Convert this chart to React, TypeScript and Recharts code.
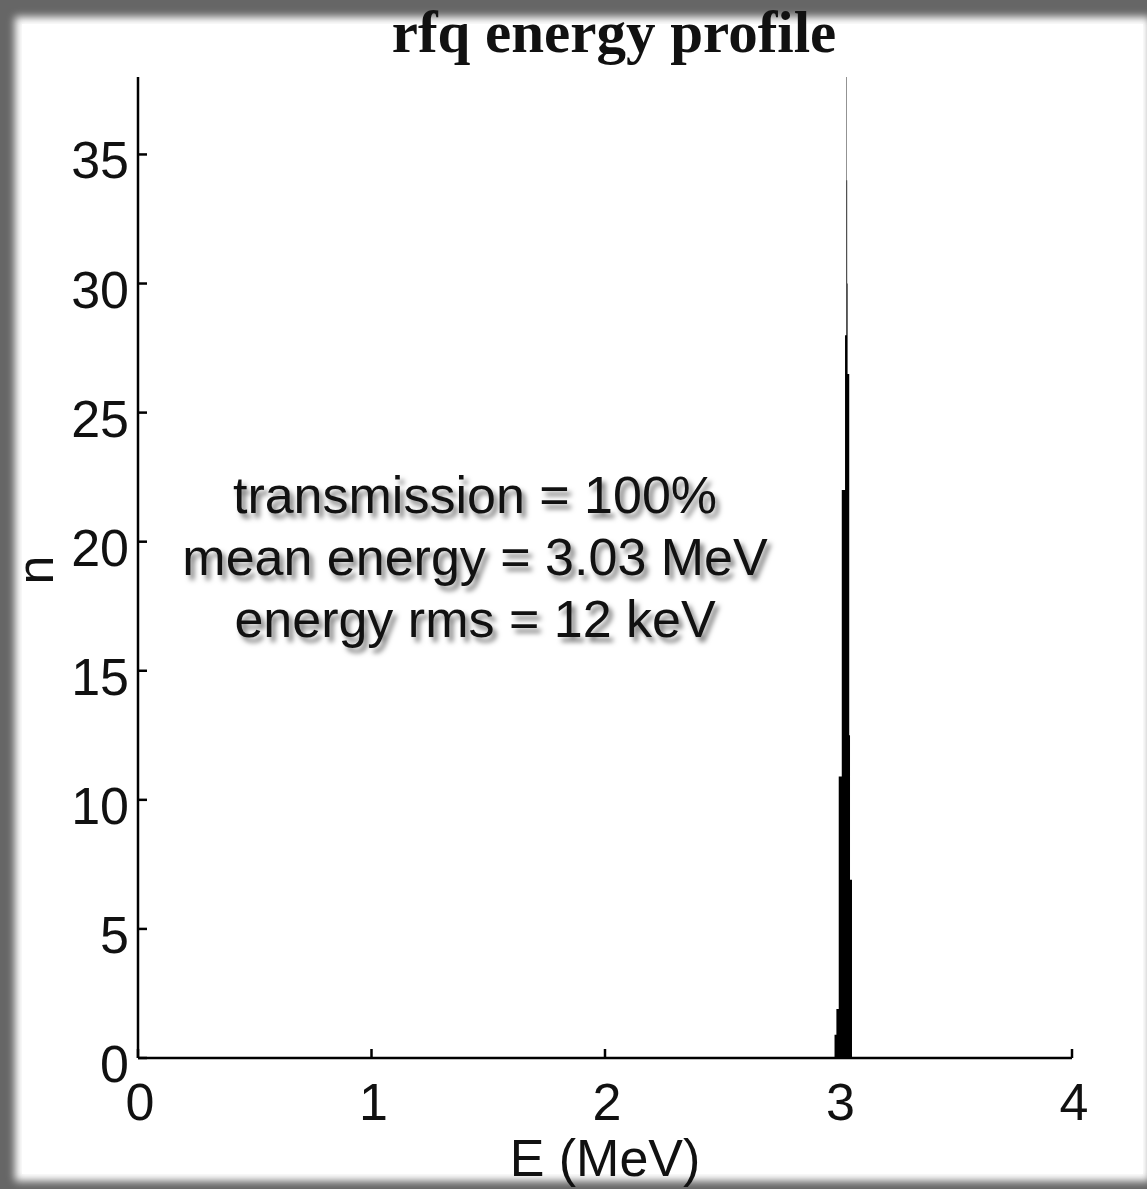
import React from "react";
import { AreaChart, Area, XAxis, YAxis } from "recharts";

// histogram bin left edges (MeV) and counts; last edge closes the spike
const energyEdges = [2.983, 2.991, 3.001, 3.014, 3.028, 3.0335, 3.0353, 3.0371, 3.0389, 3.046, 3.0493, 3.0578];
const counts = [0.9, 1.9, 10.9, 22, 28, 38, 34, 30, 26.5, 12.5, 6.9, 0];
const xTicks = [0, 1, 2, 3, 4];
const yTicks = [0, 5, 10, 15, 20, 25, 30, 35];
const statsLines = ["transmission = 100%", "mean energy = 3.03 MeV", "energy rms = 12 keV"];

const data = energyEdges.map((e, i) => ({ e, n: counts[i] }));

const sans = "'Liberation Sans', Arial, Helvetica, sans-serif";

function XTick(props: any) {
  const { x, y, payload } = props;
  return (
    <g>
      <line x1={x} y1={y} x2={x} y2={y - 9} stroke="#000" strokeWidth={2.5} />
      <text x={x + 2} y={y + 62} textAnchor="middle" fontSize={52} fontFamily={sans} fill="#111">
        {payload.value}
      </text>
    </g>
  );
}

function YTick(props: any) {
  const { x, y, payload } = props;
  return (
    <g>
      <line x1={x} y1={y} x2={x + 9} y2={y} stroke="#000" strokeWidth={2.5} />
      <text x={x - 9} y={y + 24} textAnchor="end" fontSize={52} fontFamily={sans} fill="#111">
        {payload.value}
      </text>
    </g>
  );
}

export default function App() {
  return (
    <div style={{ position: "absolute", left: 0, top: 0, width: 1147, height: 1189, overflow: "hidden", background: "#666" }}>
      {/* white panel with soft frame edge */}
      <div
        style={{
          position: "absolute",
          left: 22,
          top: 24,
          width: 1121,
          height: 1150,
          background: "#fff",
          boxShadow: "0 0 8px 7px #fff",
        }}
      />
      <div style={{ position: "absolute", left: 0, top: 0 }}>
        <AreaChart width={1147} height={1189} data={data} margin={{ top: 77, right: 75, bottom: 0, left: 0 }}>
          <XAxis
            dataKey="e"
            type="number"
            domain={[0, 4]}
            ticks={xTicks}
            interval={0}
            allowDataOverflow
            height={131}
            tickSize={0}
            tickMargin={0}
            tickLine={false}
            axisLine={{ stroke: "#000", strokeWidth: 2.5 }}
            tick={XTick}
          />
          <YAxis
            type="number"
            domain={[0, 38]}
            ticks={yTicks}
            interval={0}
            allowDataOverflow
            width={138}
            tickSize={0}
            tickMargin={0}
            tickLine={false}
            axisLine={{ stroke: "#000", strokeWidth: 2.5 }}
            tick={YTick}
          />
          <Area
            type="stepAfter"
            dataKey="n"
            stroke="none"
            fill="#000"
            fillOpacity={1}
            dot={false}
            activeDot={false}
            isAnimationActive={false}
          />
        </AreaChart>
      </div>
      <div
        style={{
          position: "absolute",
          left: 314,
          top: 0,
          width: 600,
          textAlign: "center",
          fontFamily: "'Liberation Serif', 'Times New Roman', serif",
          fontWeight: "bold",
          fontSize: 59,
          lineHeight: "64px",
          color: "#111",
        }}
      >
        rfq energy profile
      </div>
      <div
        style={{
          position: "absolute",
          left: 0,
          top: 464,
          width: 950,
          textAlign: "center",
          fontFamily: sans,
          fontSize: 52,
          lineHeight: "62px",
          color: "#111",
          textShadow: "4px 5px 5px rgba(0,0,0,0.5)",
        }}
      >
        {statsLines.map((s) => (
          <div key={s}>{s}</div>
        ))}
      </div>
      <div
        style={{
          position: "absolute",
          left: 305,
          top: 1128,
          width: 600,
          textAlign: "center",
          fontFamily: sans,
          fontSize: 52,
          lineHeight: "60px",
          color: "#111",
        }}
      >
        E (MeV)
      </div>
      <div
        style={{
          position: "absolute",
          left: -15,
          top: 540,
          width: 100,
          height: 60,
          textAlign: "center",
          fontFamily: sans,
          fontSize: 52,
          lineHeight: "60px",
          color: "#111",
          transform: "rotate(-90deg)",
        }}
      >
        n
      </div>
    </div>
  );
}
